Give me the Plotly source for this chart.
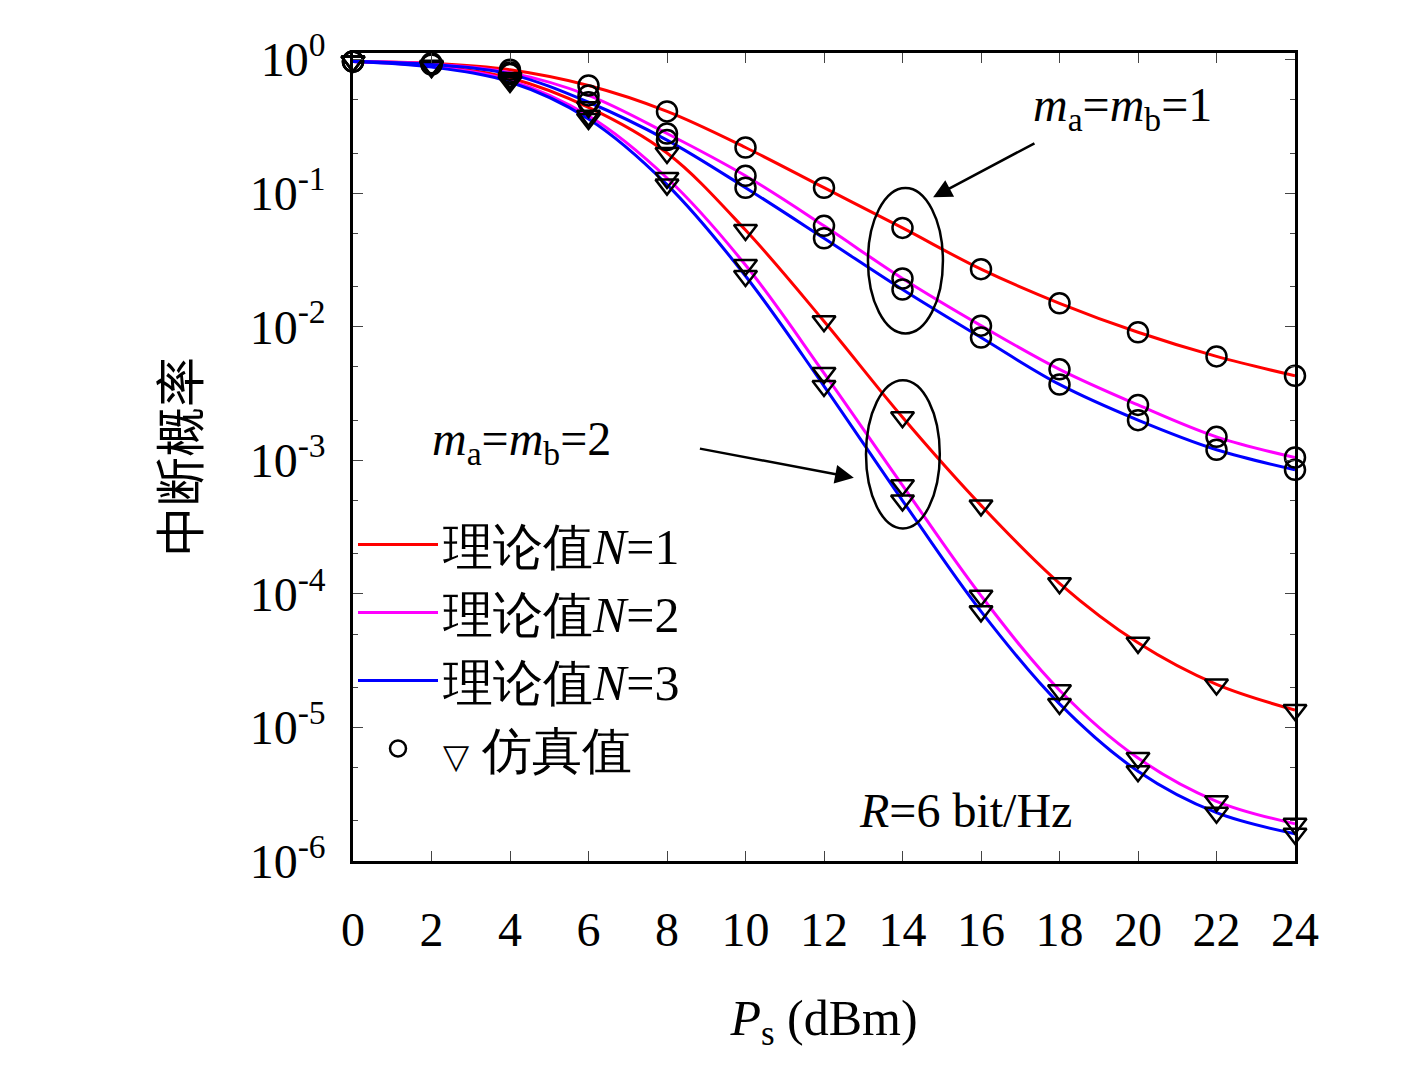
import plotly.graph_objects as go

x = [0, 2, 4, 6, 8, 10, 12, 14, 16, 18, 20, 22, 24]

# m_a = m_b = 1 (circles)
c_n1 = [0.97, 0.94, 0.84, 0.64, 0.41, 0.22, 0.11, 0.055, 0.027, 0.015, 0.0091, 0.006, 0.0043]
c_n2 = [0.97, 0.93, 0.80, 0.54, 0.28, 0.135, 0.057, 0.023, 0.0102, 0.0048, 0.0026, 0.0015, 0.00105]
c_n3 = [0.97, 0.92, 0.78, 0.48, 0.25, 0.11, 0.046, 0.019, 0.0083, 0.0037, 0.002, 0.0012, 0.00085]
# m_a = m_b = 2 (triangles)
t_n1 = [0.97, 0.90, 0.73, 0.44, 0.20, 0.053, 0.011, 0.0021, 0.00046, 0.00012, 4.3e-5, 2.1e-5, 1.35e-5]
t_n2 = [0.97, 0.89, 0.70, 0.38, 0.13, 0.029, 0.0045, 6.5e-4, 9.7e-5, 1.9e-5, 5.9e-6, 2.8e-6, 1.9e-6]
t_n3 = [0.97, 0.88, 0.68, 0.36, 0.116, 0.024, 0.0036, 5.0e-4, 7.4e-5, 1.5e-5, 4.7e-6, 2.3e-6, 1.6e-6]

colors = ["#ff0000", "#ff00ff", "#0000ff"]
names = ["理论值<i>N</i>=1", "理论值<i>N</i>=2", "理论值<i>N</i>=3"]

FONT = "Liberation Serif"
fig = go.Figure()

for i, (c, t) in enumerate([(c_n1, t_n1), (c_n2, t_n2), (c_n3, t_n3)]):
    fig.add_trace(go.Scatter(x=x, y=c, mode="lines", line=dict(color=colors[i], width=3, shape="spline"),
                             name=names[i], showlegend=True))
    fig.add_trace(go.Scatter(x=x, y=t, mode="lines", line=dict(color=colors[i], width=3, shape="spline"),
                             showlegend=False))

for c in (c_n1, c_n2, c_n3):
    fig.add_trace(go.Scatter(x=x, y=c, mode="markers", showlegend=False, cliponaxis=False,
                             marker=dict(symbol="circle-open", size=20, color="black", line=dict(width=2.5))))
for t in (t_n1, t_n2, t_n3):
    fig.add_trace(go.Scatter(x=x, y=t, mode="markers", showlegend=False, cliponaxis=False,
                             marker=dict(symbol="triangle-down-open", size=20, color="black", line=dict(width=2.5))))

fig.add_trace(go.Scatter(x=[None], y=[None], mode="markers", name="<span style='font-size:34px'>▽</span> 仿真值",
                         marker=dict(symbol="circle-open", size=20, color="black", line=dict(width=2.5))))

fig.add_shape(type="circle", xref="x", yref="y", x0=13.12, x1=15.03, y0=10**-2.05, y1=10**-0.96,
              line=dict(color="black", width=2.5))
fig.add_shape(type="circle", xref="x", yref="y", x0=13.07, x1=14.95, y0=10**-3.51, y1=10**-2.40,
              line=dict(color="black", width=2.5))

fig.add_annotation(x=14.78, y=-1.03, ax=17.4, ay=-0.62, xref="x", yref="y", axref="x", ayref="y",
                   text="", showarrow=True, arrowhead=2, arrowsize=1.5, arrowwidth=2.5, arrowcolor="black")
fig.add_annotation(x=12.76, y=-3.13, ax=8.8, ay=-2.91, xref="x", yref="y", axref="x", ayref="y",
                   text="", showarrow=True, arrowhead=2, arrowsize=1.5, arrowwidth=2.5, arrowcolor="black")
fig.add_annotation(x=19.6, y=-0.36, xref="x", yref="y", showarrow=False,
                   text="<i>m</i><sub>a</sub>=<i>m</i><sub>b</sub>=1", font=dict(size=48, family=FONT, color="black"))
fig.add_annotation(x=4.3, y=-2.86, xref="x", yref="y", showarrow=False,
                   text="<i>m</i><sub>a</sub>=<i>m</i><sub>b</sub>=2", font=dict(size=48, family=FONT, color="black"))
fig.add_annotation(x=15.6, y=-5.62, xref="x", yref="y", showarrow=False,
                   text="<i>R</i>=6 bit/Hz", font=dict(size=48, family=FONT, color="black"))

fig.update_layout(
    width=1417, height=1083, plot_bgcolor="white", paper_bgcolor="white",
    margin=dict(l=345, r=130, t=45, b=230),
    font=dict(family=FONT, size=48, color="black"),
    legend=dict(x=0.0, y=0.44, xanchor="left", yanchor="top", bgcolor="rgba(0,0,0,0)",
                font=dict(size=50, family=FONT), tracegroupgap=0, itemwidth=80),
    xaxis=dict(range=[0, 24], tickvals=x, ticks="inside", ticklen=10, mirror="ticks", showline=True,
               linecolor="black", linewidth=2.5, showgrid=False, zeroline=False, ticklabelstandoff=25,
               title=dict(text="<i>P</i><sub>s</sub> (dBm)", font=dict(size=50), standoff=45), tickfont=dict(size=48)),
    yaxis=dict(type="log", range=[-6, 0.05], tickvals=[10.0**k for k in range(-6, 1)],
               ticktext=["10<sup>%d</sup>" % k for k in range(-6, 1)],
               ticks="inside", ticklen=10, mirror="ticks", showline=True, linecolor="black", linewidth=2.5,
               showgrid=False, minor=dict(ticks="inside", ticklen=5, showgrid=False), ticklabelstandoff=15,
               title=dict(text="中断概率", font=dict(size=50, family="Noto Sans CJK SC"), standoff=35),
               tickfont=dict(size=48)),
)

fig.write_html("out.html")
